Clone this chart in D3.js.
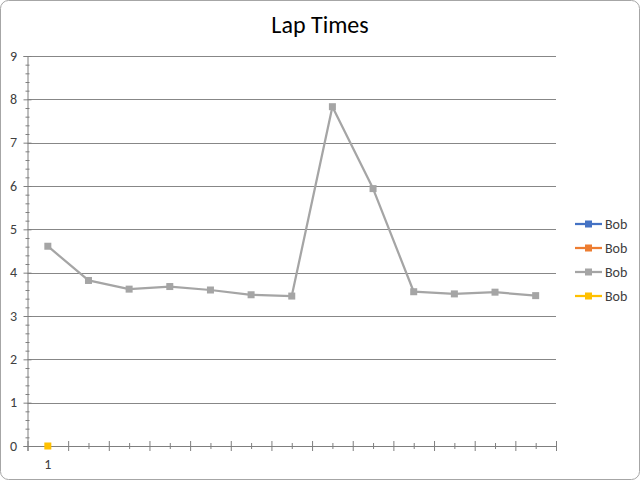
<!DOCTYPE html>
<html>
<head>
<meta charset="utf-8">
<script src="https://cdn.jsdelivr.net/npm/d3@7"></script>
<style>
  html, body { margin: 0; padding: 0; background: #fff; }
  svg { display: block; }
  text { font-family: Carlito, Lato, "Open Sans", sans-serif; fill: #404040; font-weight: 400; }
</style>
</head>
<body>
<svg id="chart" width="640" height="480"></svg>
<script>
// ---- data ----
const title = "Lap Times";
const categories = [1,2,3,4,5,6,7,8,9,10,11,12,13];
const categoryLabels = ["1","","","","","","","","","","","",""];
const seriesNames = ["Bob","Bob","Bob","Bob"];
const seriesColors = ["#4472C4","#ED7D31","#A5A5A5","#FFC000"];
const series1 = [];
const series2 = [];
const series3 = [4.61, 3.82, 3.62, 3.68, 3.60, 3.49, 3.46, 7.83, 5.94, 3.56, 3.51, 3.55, 3.47];
const series4 = [0];
const yTicks = [0,1,2,3,4,5,6,7,8,9];

const allSeries = [series1, series2, series3, series4];

const svg = d3.select("#chart");
const W = 640, H = 480;

// outer rounded border
svg.append("rect").attr("x",0.5).attr("y",0.5).attr("width",W-1).attr("height",H-1)
  .attr("rx",8).attr("ry",8).attr("fill","#fff").attr("stroke","#A6A6A6").attr("stroke-width",1);

// title
svg.append("text").attr("x",320).attr("y",33).attr("text-anchor","middle")
  .style("font-size","24px").style("fill","#000").text(title);

const plot = {left: 27.5, right: 556, top: 56, bottom: 446};
const x = d3.scaleLinear().domain([0, categories.length]).range([plot.left, plot.right]);
const y = d3.scaleLinear().domain([0, 9]).range([plot.bottom, plot.top]);
const cx = i => x(i + 0.5);

const gridColor = "#878787";
const axisColor = "#7f7f7f";

// gridlines
svg.append("g").selectAll("line").data(yTicks.filter(t => t > 0)).join("line")
  .attr("x1", plot.left).attr("x2", plot.right)
  .attr("y1", d => Math.round(y(d)) + 0.5).attr("y2", d => Math.round(y(d)) + 0.5)
  .attr("stroke", gridColor).attr("stroke-width", 1);

// y axis with minor ticks
const minorY = d3.range(0, 9.0001, 0.2).map(v => +v.toFixed(1)).filter(v => !yTicks.includes(v));
const yMinor = svg.append("g").attr("transform", `translate(${plot.left},0)`)
  .call(d3.axisLeft(y).tickValues(minorY).tickSize(2).tickFormat(""));
yMinor.select(".domain").remove();
yMinor.selectAll(".tick line").attr("x1", -2).attr("x2", 2).attr("stroke", axisColor);

const yAxis = svg.append("g").attr("transform", `translate(${plot.left},0)`)
  .call(d3.axisLeft(y).tickValues(yTicks).tickSize(4).tickPadding(9).tickFormat(d3.format("d")));
yAxis.select(".domain").attr("stroke", axisColor);
yAxis.selectAll(".tick line").attr("x1", -4).attr("x2", 4).attr("stroke", axisColor);
yAxis.selectAll(".tick text").style("font-size","14px").style("fill","#404040")
  .attr("text-anchor","middle").attr("x", -14).attr("dy", "0.3em");

// x axis: major ticks at category boundaries, minor at centers
const xMinor = svg.append("g").attr("transform", `translate(0,${plot.bottom})`)
  .call(d3.axisBottom(x).tickValues(categories.map((c,i) => i + 0.5)).tickSize(3).tickFormat(""));
xMinor.select(".domain").remove();
xMinor.selectAll(".tick line").attr("y1", -3).attr("y2", 3).attr("stroke", axisColor);

const xAxis = svg.append("g").attr("transform", `translate(0,${plot.bottom})`)
  .call(d3.axisBottom(x).tickValues(d3.range(0, categories.length + 1)).tickSize(5).tickFormat(""));
xAxis.select(".domain").attr("stroke", axisColor);
xAxis.selectAll(".tick line").attr("y1", -5).attr("y2", 5).attr("stroke", axisColor);

// category labels
svg.append("g").selectAll("text").data(categoryLabels).join("text")
  .attr("x", (d,i) => cx(i)).attr("y", plot.bottom + 23)
  .attr("text-anchor","middle").style("font-size","14px").style("fill","#404040").text(d => d);

// series
const line = d3.line().x((d,i) => cx(i)).y(d => y(d));
allSeries.forEach((s, k) => {
  if (!s.length) return;
  const g = svg.append("g");
  g.append("path").datum(s).attr("d", line).attr("fill","none")
    .attr("stroke", seriesColors[k]).attr("stroke-width", 2.25).attr("stroke-linejoin","round");
  g.selectAll("rect").data(s).join("rect")
    .attr("x", (d,i) => cx(i) - 3.5).attr("y", d => y(d) - 3.5)
    .attr("width", 7).attr("height", 7).attr("fill", seriesColors[k]);
});

// legend
const lg = svg.append("g");
seriesNames.forEach((n, k) => {
  const ly = 224 + k * 24;
  lg.append("line").attr("x1", 575).attr("x2", 602).attr("y1", ly).attr("y2", ly)
    .attr("stroke", seriesColors[k]).attr("stroke-width", 2.25);
  lg.append("rect").attr("x", 585).attr("y", ly - 3.5).attr("width", 7).attr("height", 7)
    .attr("fill", seriesColors[k]);
  lg.append("text").attr("x", 605).attr("y", ly + 5).style("font-size","14px")
    .style("fill","#404040").text(n);
});
</script>
</body>
</html>
